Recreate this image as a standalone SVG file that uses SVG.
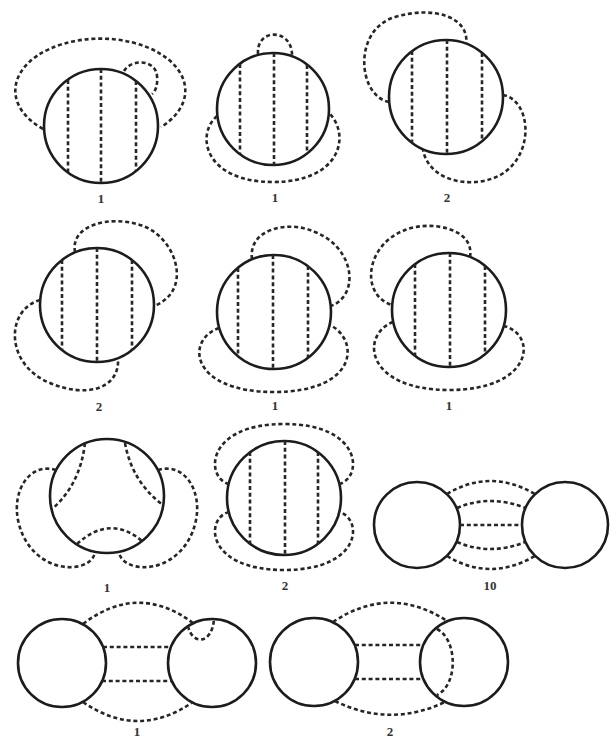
<svg xmlns="http://www.w3.org/2000/svg" width="615" height="741" viewBox="0 0 615 741">
<style>
.c{fill:none;stroke:#1c1c1c;stroke-width:2.6}
.d{fill:none;stroke:#262626;stroke-width:2.6;stroke-dasharray:4 2.8}
.l{font-family:"Liberation Serif",serif;font-size:13px;font-weight:bold;fill:#333;text-anchor:middle}
</style>
<rect width="615" height="741" fill="#fff"/>
<g id="dA">
<circle class="c" cx="101" cy="126" r="57"/>
<path class="d" d="M68,80 V172 M101,69 V183 M136,81 V171"/>
<path class="d" d="M43,129 A85,52 0 1 1 161,127"/>
<path class="d" d="M124,71 C132,58 156,60 157,76 C158,86 155,92 152,94"/>
<text class="l" x="101" y="203">1</text>
</g>
<g id="dB">
<circle class="c" cx="273" cy="109" r="56"/>
<path class="d" d="M240,64 V154 M274,53 V165 M307,65 V153"/>
<path class="d" d="M258,54 C256,28 292,28 292,55"/>
<path class="d" d="M217,116 C195,135 205,182 273,182 C341,182 351,135 329,113"/>
<text class="l" x="275" y="202">1</text>
</g>
<g id="dC">
<circle class="c" cx="446" cy="97" r="57"/>
<path class="d" d="M412,51 V143 M447,40 V154 M482,53 V141"/>
<path class="d" d="M389,102 C358,96 352,30 395,17 C435,5 470,18 466,44"/>
<path class="d" d="M503,95 C530,100 535,150 505,172 C480,190 430,185 423,150"/>
<text class="l" x="447" y="202">2</text>
</g>
<g id="dD">
<circle class="c" cx="97" cy="305" r="57"/>
<path class="d" d="M62,260 V350 M97,248 V362 M132,260 V350"/>
<path class="d" d="M75,252 C70,225 110,215 140,225 C175,235 195,290 154,306"/>
<path class="d" d="M40,300 C5,310 5,365 50,383 C85,398 120,390 118,358"/>
<text class="l" x="99" y="411">2</text>
</g>
<g id="dE">
<circle class="c" cx="274" cy="312" r="57"/>
<path class="d" d="M238,268 V356 M273,255 V369 M308,266 V358"/>
<path class="d" d="M252,259 C248,228 290,220 315,232 C355,248 360,295 331,306"/>
<path class="d" d="M219,328 C185,340 190,392 274,392 C358,392 360,340 330,325"/>
<text class="l" x="275" y="410">1</text>
</g>
<g id="dF">
<circle class="c" cx="449" cy="310" r="57"/>
<path class="d" d="M415,264 V356 M450,253 V367 M485,266 V354"/>
<path class="d" d="M470,257 C475,228 430,220 405,230 C365,245 360,295 392,305"/>
<path class="d" d="M393,322 C360,335 365,390 449,390 C533,390 538,335 504,326"/>
<text class="l" x="449" y="410">1</text>
</g>
<g id="dG">
<circle class="c" cx="107" cy="496" r="57"/>
<path class="d" d="M85,443 Q80,485 52,509"/>
<path class="d" d="M125,443 Q132,482 163,505"/>
<path class="d" d="M77,544 Q110,514 142,541"/>
<path class="d" d="M56,470 C30,462 12,490 18,520 C25,555 55,572 80,566 C90,563 94,558 95,552"/>
<path class="d" d="M158,470 C184,462 202,490 196,520 C189,555 159,572 134,566 C124,563 120,558 119,552"/>
<text class="l" x="107" y="592">1</text>
</g>
<g id="dH">
<circle class="c" cx="284" cy="498" r="57"/>
<path class="d" d="M250,452 V544 M285,441 V555 M318,452 V544"/>
<path class="d" d="M229,484 C205,478 205,424 284,424 C363,424 363,478 339,484"/>
<path class="d" d="M229,512 C205,518 205,570 284,570 C363,570 363,518 339,512"/>
<text class="l" x="285" y="590">2</text>
</g>
<g id="dI">
<circle class="c" cx="417" cy="525" r="43"/>
<circle class="c" cx="565" cy="525" r="43"/>
<path class="d" d="M447,494 Q490,468 535,494"/>
<path class="d" d="M457,508 Q490,494 525,508"/>
<path class="d" d="M460,525 L522,525"/>
<path class="d" d="M457,542 Q490,556 525,542"/>
<path class="d" d="M447,556 Q490,582 535,556"/>
<text class="l" x="490" y="590">10</text>
</g>
<g id="dJ">
<circle class="c" cx="62" cy="663" r="44"/>
<circle class="c" cx="212" cy="663" r="44"/>
<path class="d" d="M83,624 Q138,582 193,623"/>
<path class="d" d="M188,626 C192,645 212,645 214,619"/>
<path class="d" d="M103,647 L171,647 M102,681 L172,681"/>
<path class="d" d="M83,702 Q138,740 193,702"/>
<text class="l" x="137" y="736">1</text>
</g>
<g id="dK">
<circle class="c" cx="314" cy="662" r="44"/>
<circle class="c" cx="464" cy="662" r="44"/>
<path class="d" d="M333,622 Q390,584 447,621"/>
<path class="d" d="M355,645 L423,645 M355,679 L423,679"/>
<path class="d" d="M437,629 C458,640 458,685 437,695"/>
<path class="d" d="M335,701 Q390,728 445,702"/>
<text class="l" x="390" y="736">2</text>
</g>
</svg>
